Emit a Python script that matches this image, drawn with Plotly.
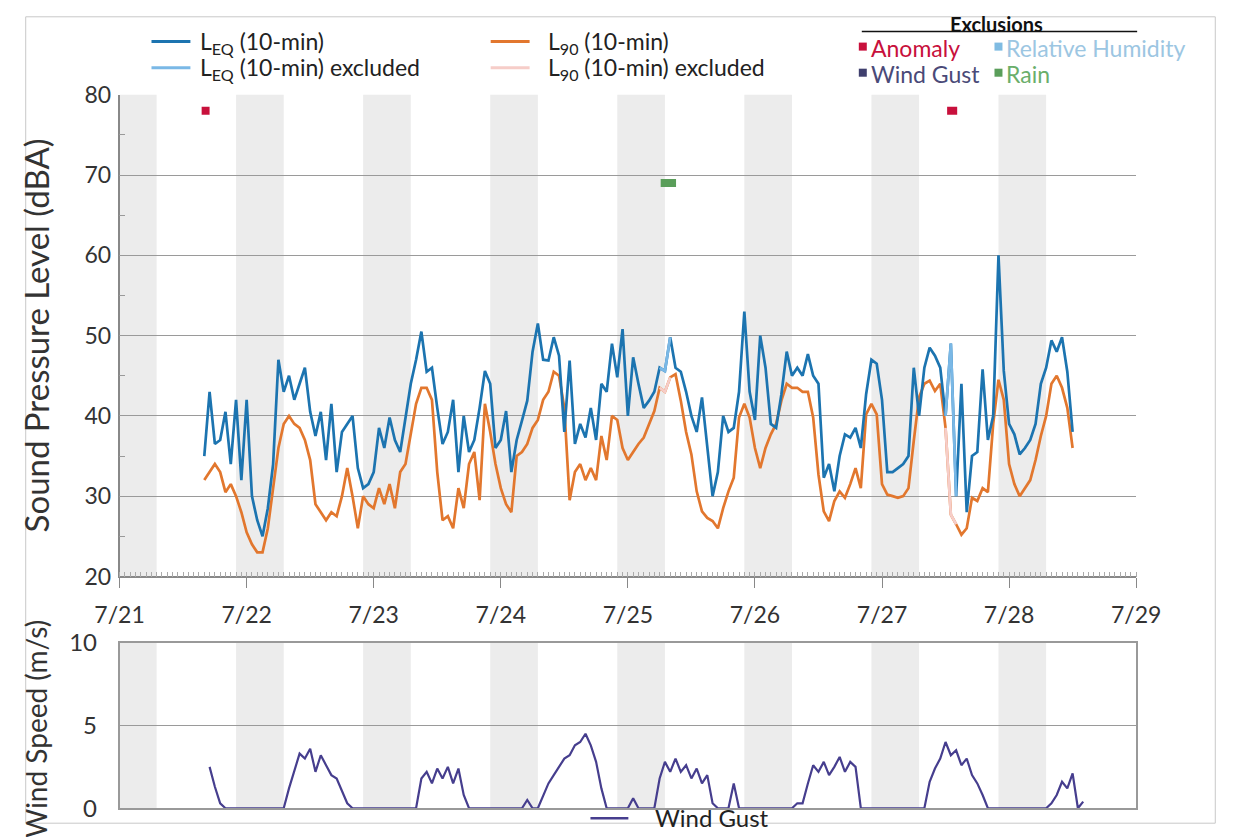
import pandas as pd
import plotly.graph_objects as go

W, H = 1241, 837
START = pd.Timestamp("2019-07-21 00:00")

# ---------------- data (hours counted from 7/21 00:00) ----------------
SPL_HOURS = list(range(16, 181))
LEQ = [
    35, 43, 36.5, 37, 40.5, 34, 42, 32, 42, 30, 27, 25, 28.5, 34,            # 16-29
    47, 43, 45, 42, 44, 46, 40.5, 37.5, 40.5, 34.5, 41.5, 33, 38, 39,        # 30-43
    40, 33.5, 31, 31.5, 33, 38.5, 36, 39.8, 37, 35.5, 40, 44, 47, 50.5,      # 44-57
    45.5, 46, 41, 36.5, 38, 42, 33, 40, 35.5, 37, 41, 45.6, 44, 36,          # 58-71
    37, 40.6, 33, 37, 39.4, 41.9, 48, 51.5, 47, 46.9, 49.8, 47.5, 38, 46.9,  # 72-85
    36.5, 39, 37.3, 41, 37, 44, 43, 49, 44.8, 50.8, 40, 47.3, 44, 41,        # 86-99
    41.9, 43, 46, 45.6, 49.8, 46, 45.5, 43, 40, 38, 42.3, 36, 30, 33,        # 100-113
    40, 38, 38.5, 43, 53, 43, 39.5, 50, 46, 39, 38.5, 42.7, 48, 45,          # 114-127
    46, 45, 47.7, 45, 44, 32.3, 34, 30.6, 35, 37.7, 37.3, 38.5, 36, 42.7,    # 128-141
    47, 46.5, 42, 33, 33, 33.5, 34, 35, 46, 40, 46, 48.5, 47.5, 46,          # 142-155
    40, 49, 30, 44, 28, 35, 35.5, 45.8, 37, 40, 60, 45.6, 39, 37.7,          # 156-169
    35.2, 36, 37, 39, 44, 46, 49.4, 48, 49.8, 45.5, 38,                      # 170-180
]
L90 = [
    32, 33, 34, 33, 30.5, 31.5, 30, 28, 25.5, 24, 23, 23, 26, 31,            # 16-29
    36, 39, 40, 39, 38.5, 37, 34.5, 29, 28, 27, 28, 27.5, 30, 33.5,          # 30-43
    30, 26, 30, 29, 28.5, 31, 29, 31.5, 28.5, 33, 34, 38, 41.5, 43.5,        # 44-57
    43.5, 42, 33, 27, 27.5, 26, 31, 28.5, 34, 35.5, 29.5, 41.5, 38, 34,      # 58-71
    31, 29, 28, 35, 35.5, 36.5, 38.5, 39.5, 42, 43, 45.5, 45, 41, 29.5,      # 72-85
    33, 34, 32, 33.5, 32, 37.5, 34.5, 40, 39.5, 36, 34.5, 35.5, 36.5, 37.3,  # 86-99
    39, 40.6, 43.5, 43, 44.8, 45.2, 41.9, 38, 35.2, 30.6, 28.1, 27.3, 26.9, 26,  # 100-113
    28.5, 30.6, 32.3, 39.8, 41.5, 39.8, 36, 33.5, 36, 37.7, 39, 41.9, 44, 43.5,  # 114-127
    43.5, 43, 43, 39.8, 32.7, 28.1, 26.9, 29.4, 30.6, 29.8, 31.5, 33.5, 31, 40.2,  # 128-141
    41.5, 40.2, 31.5, 30.2, 30, 29.8, 30, 31, 36.9, 42.3, 44, 44.4, 43.1, 44,      # 142-155
    38.5, 27.7, 26.5, 25.2, 26, 29.8, 29.4, 31, 30.5, 39, 44.5, 42, 34, 31.5,      # 156-169
    30, 31, 32, 34.5, 37.5, 40, 44, 45, 43.5, 41, 36,                              # 170-180
]
WIND_HOURS = list(range(17, 183))
WIND = [
    2.5, 1.3, 0.3, 0, 0, 0, 0, 0, 0, 0, 0, 0, 0, 0,                 # 17-30
    0, 1.2, 2.2, 3.3, 3.0, 3.6, 2.2, 3.2, 2.6, 2.0, 1.8, 1.0, 0.3, 0,  # 31-44
    0, 0, 0, 0, 0, 0, 0, 0, 0, 0, 0, 0, 1.8, 2.2,                   # 45-58
    1.5, 2.4, 1.8, 2.5, 1.5, 2.4, 0.8, 0, 0, 0, 0, 0, 0, 0,         # 59-72
    0, 0, 0, 0, 0.5, 0, 0, 0.8, 1.5, 2.0, 2.5, 3.0, 3.2, 3.8,       # 73-86
    4.0, 4.5, 3.8, 2.8, 1.2, 0, 0, 0, 0, 0, 0.6, 0, 0, 0,           # 87-100
    0, 1.8, 2.8, 2.2, 3.0, 2.2, 2.6, 1.8, 2.4, 1.5, 2.0, 0.3, 0, 0,  # 101-114
    0, 1.5, 0, 0, 0, 0, 0, 0, 0, 0, 0, 0, 0, 0.3,                   # 115-128
    0.3, 1.5, 2.6, 2.2, 2.8, 2.0, 2.5, 3.1, 2.2, 2.8, 2.5, 0, 0, 0,  # 129-142
    0, 0, 0, 0, 0, 0, 0, 0, 0, 0, 1.6, 2.4, 3.0, 4.0,               # 143-156
    3.2, 3.5, 2.6, 3.0, 2.0, 1.5, 0.8, 0, 0, 0, 0, 0, 0, 0,         # 157-170
    0, 0, 0, 0, 0, 0.3, 0.8, 1.6, 1.2, 2.1, 0, 0.4,                 # 171-182
]
EXCLUDED_HOURS = [102, 103, 104, 156, 157, 158]
ANOMALY_PERIODS = [(15.5, 17.0), (156.3, 158.2)]
RAIN_PERIODS = [(102.2, 105.1)]
ANOMALY_LEVEL = 78
RAIN_LEVEL = 69
NIGHT_START_HOUR, NIGHT_END_HOUR = 22, 7
N_DAYS = 8

SERIES_LABELS = ["L<sub>EQ</sub> (10-min)", "L<sub>EQ</sub> (10-min) excluded",
                 "L<sub>90</sub> (10-min)", "L<sub>90</sub> (10-min) excluded"]
EXCL_LABELS = ["Anomaly", "Relative Humidity", "Wind Gust", "Rain"]


def t(h):
    return START + pd.to_timedelta(h, unit="h")


spl_t = [t(h) for h in SPL_HOURS]
wind_t = [t(h) for h in WIND_HOURS]
leq_ex = [v if h in EXCLUDED_HOURS else None for h, v in zip(SPL_HOURS, LEQ)]
l90_ex = [v if h in EXCLUDED_HOURS else None for h, v in zip(SPL_HOURS, L90)]

C_LEQ, C_L90 = "#1c74b0", "#e2772e"
C_LEQX, C_L90X = "#7ab8e6", "#f6cdc8"
C_WIND = "#463e8e"
C_ANOM, C_RH, C_WG, C_RAIN = "#c8103c", "#7fbbe2", "#3f3f6e", "#5a9e5a"
FONT = "Lato"

fig = go.Figure()
fig.add_trace(go.Scatter(x=spl_t, y=L90, mode="lines", name=SERIES_LABELS[2],
                         line=dict(color=C_L90, width=2.7), showlegend=False))
fig.add_trace(go.Scatter(x=spl_t, y=l90_ex, mode="lines", name=SERIES_LABELS[3],
                         line=dict(color=C_L90X, width=2.7), showlegend=False))
fig.add_trace(go.Scatter(x=spl_t, y=LEQ, mode="lines", name=SERIES_LABELS[0],
                         line=dict(color=C_LEQ, width=2.7), showlegend=False))
fig.add_trace(go.Scatter(x=spl_t, y=leq_ex, mode="lines", name=SERIES_LABELS[1],
                         line=dict(color=C_LEQX, width=2.7), showlegend=False))

for a, b in ANOMALY_PERIODS:
    fig.add_trace(go.Scatter(x=[t(a), t(b)], y=[ANOMALY_LEVEL, ANOMALY_LEVEL], mode="lines",
                             line=dict(color=C_ANOM, width=8), showlegend=False))
for a, b in RAIN_PERIODS:
    fig.add_trace(go.Scatter(x=[t(a), t(b)], y=[RAIN_LEVEL, RAIN_LEVEL], mode="lines",
                             line=dict(color=C_RAIN, width=8), showlegend=False))

fig.add_trace(go.Scatter(x=wind_t, y=WIND, mode="lines", name="Wind Gust", xaxis="x2", yaxis="y2",
                         line=dict(color=C_WIND, width=2.2), showlegend=False))

# ---------------- layout ----------------
# Positions below are given in target-picture pixels; the photographed page shows the
# figure slightly reduced and padded, so they are mapped back to page coordinates.
S, OX, OY = 0.962, 23.2, 16.5


def px_x(r):
    return ((r - OX) / S) / W


def px_y(r):
    return 1 - ((r - OY) / S) / H


X0, X1 = px_x(118), px_x(1137)
TOP = [px_y(575), px_y(95)]
BOT = [px_y(806), px_y(641)]
xr = [START, START + pd.Timedelta(days=N_DAYS)]

shapes, annotations = [], []


def hline(x0, x1, y, color, width):
    shapes.append(dict(type="line", xref="paper", yref="paper", x0=px_x(x0), x1=px_x(x1),
                       y0=px_y(y), y1=px_y(y), line=dict(color=color, width=width)))


def label(text, x, y, size, color, anchor="left", bold=False, angle=0):
    annotations.append(dict(text=f"<b>{text}</b>" if bold else text, x=px_x(x), y=px_y(y),
                            xref="paper", yref="paper", showarrow=False, textangle=angle,
                            font=dict(family=FONT, size=size, color=color),
                            xanchor=anchor, yanchor="middle", borderpad=0))


for d in range(N_DAYS):
    s = START + pd.Timedelta(days=d) - pd.Timedelta(hours=24 - NIGHT_START_HOUR)
    e = START + pd.Timedelta(days=d) + pd.Timedelta(hours=NIGHT_END_HOUR)
    s = max(s, START)
    for xa, ya in (("x", "y domain"), ("x2", "y2 domain")):
        shapes.append(dict(type="rect", xref=xa, yref=ya, x0=s, x1=e, y0=0, y1=1,
                           fillcolor="#ececec", line=dict(width=0), layer="below"))

# outer frame (as close to the picture border as the page allows)
shapes.append(dict(type="rect", xref="paper", yref="paper", x0=0.0006, x1=0.9994,
                   y0=0.001, y1=0.999, line=dict(color="#c8c8c8", width=1)))

# main legend (top-left)
for (lx, ly, tx), col, txt in zip([(150, 42, 198), (150, 68, 198), (490, 42, 546), (490, 68, 546)],
                                  [C_LEQ, C_LEQX, C_L90, C_L90X], SERIES_LABELS):
    hline(lx, lx + 39, ly, col, 3)
    label(txt, tx, ly + 1, 23, "#222")

# exclusions legend (top-right)
label("Exclusions", 997, 24, 20, "#111", anchor="center", bold=True)
hline(862, 1138, 32, "#111", 1.5)
for name, sq, tc, xx, yy in zip(EXCL_LABELS, [C_ANOM, C_RH, C_WG, C_RAIN],
                                ["#c8103c", "#9cc6e2", "#4a4a78", "#6aae6a"],
                                [863, 999, 863, 999], [47, 47, 73, 73]):
    shapes.append(dict(type="rect", xref="paper", yref="paper", x0=px_x(xx - 4), x1=px_x(xx + 4),
                       y0=px_y(yy + 4), y1=px_y(yy - 4), fillcolor=sq, line=dict(width=0)))
    label(name, xx + 7, yy + 1, 23, tc)

# bottom legend
hline(590, 628, 816, C_WIND, 2.5)
label("Wind Gust", 654, 815, 24, "#222")

# axis titles
axis_font = dict(family=FONT, size=23, color="#333")
label("Sound Pressure Level (dBA)", 34, 335, 33, "#333", anchor="center", angle=-90)
label("Wind Speed (m/s)", 34, 727, 28, "#333", anchor="center", angle=-90)

fig.update_layout(
    width=W, height=H, autosize=False, margin=dict(l=0, r=0, t=0, b=0, pad=0),
    paper_bgcolor="white", plot_bgcolor="white",
    font=dict(family=FONT, color="#222"),
    shapes=shapes, annotations=annotations, showlegend=False,
    xaxis=dict(domain=[X0, X1], anchor="y", type="date", range=xr,
               tickformat="%-m/%d", dtick=86400000, tick0=START,
               ticks="outside", ticklen=10, tickcolor="#888", tickfont=axis_font,
               showline=True, linecolor="#888", linewidth=1.5, showgrid=False,
               minor=dict(dtick=3600000, ticks="inside", ticklen=5, tickcolor="#aaa", showgrid=False),
               ticklabelstandoff=7),
    yaxis=dict(domain=TOP, anchor="x", range=[20, 80], dtick=10, tick0=20,
               showgrid=True, gridcolor="#9a9a9a", gridwidth=1,
               showline=True, linecolor="#888", linewidth=1.5,
               ticks="inside", ticklen=6, tickcolor="#999", tickfont=axis_font,
               minor=dict(dtick=5, ticks="inside", ticklen=6, tickcolor="#999", showgrid=False),
               zeroline=False, ticklabelstandoff=2),
    xaxis2=dict(domain=[X0, X1], anchor="y2", type="date", range=xr, showticklabels=False,
                ticks="", showgrid=False, showline=True, mirror=True, linecolor="#999", linewidth=1.5),
    yaxis2=dict(domain=BOT, anchor="x2", range=[0, 10], dtick=5, showgrid=True, gridcolor="#9a9a9a",
                showline=True, mirror=True, linecolor="#999", linewidth=1.5, ticks="",
                tickfont=dict(family=FONT, size=24, color="#333"), zeroline=False,
                ticklabelstandoff=16),
)

fig.write_html(
    "out.html", include_plotlyjs=True, full_html=True,
    config={"displayModeBar": False, "responsive": False},
    post_script="document.body.style.margin='0';document.body.style.overflow='hidden';"
                "document.documentElement.style.overflow='hidden';",
)
